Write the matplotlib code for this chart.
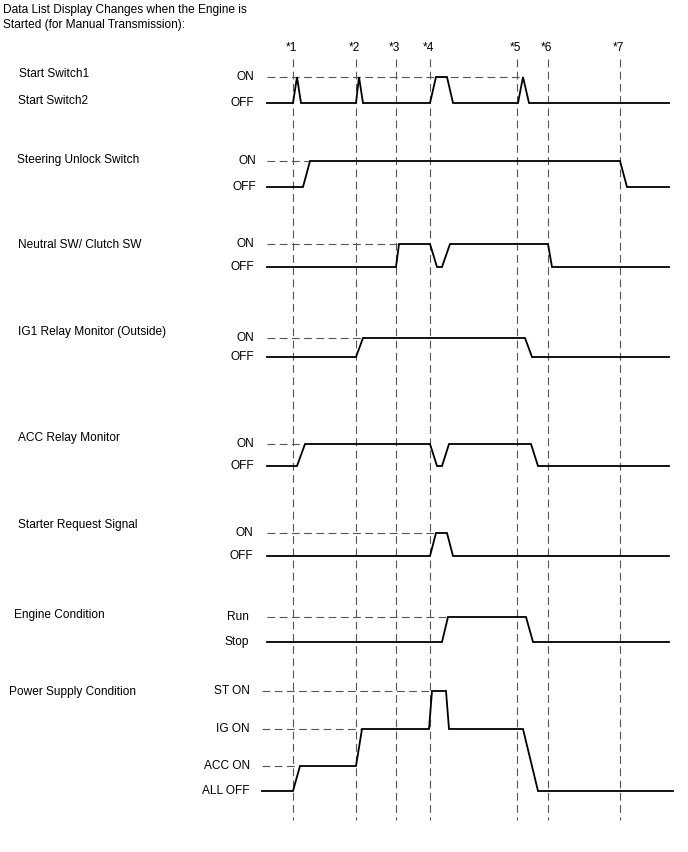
import matplotlib
matplotlib.use('Agg')
import matplotlib.pyplot as plt

plt.rcParams['font.family'] = ['Liberation Sans', 'DejaVu Sans']

# event markers
event_labels = ['*1', '*2', '*3', '*4', '*5', '*6', '*7']
event_x = [293, 356, 396, 430, 517, 548, 620]

# each signal: time points and state index at each point
ss_t = [267, 293, 297, 301, 356, 359, 363, 430, 436, 447, 453, 518, 523, 529, 669]
ss_s = [0, 0, 1, 0, 0, 1, 0, 0, 1, 1, 0, 0, 1, 0, 0]

steer_t = [267, 303, 310, 620, 627, 669]
steer_s = [0, 0, 1, 1, 0, 0]

neutral_t = [267, 396, 399, 430, 437, 442, 450, 548, 552, 669]
neutral_s = [0, 0, 1, 1, 0, 0, 1, 1, 0, 0]

ig1_t = [267, 356, 363, 525, 532, 669]
ig1_s = [0, 0, 1, 1, 0, 0]

acc_t = [267, 297, 305, 430, 437, 442, 449, 531, 538, 669]
acc_s = [0, 0, 1, 1, 0, 0, 1, 1, 0, 0]

starter_t = [267, 430, 436, 447, 453, 669]
starter_s = [0, 0, 1, 1, 0, 0]

engine_t = [267, 442, 448, 526, 533, 669]
engine_s = [0, 0, 1, 1, 0, 0]

power_t = [262, 293, 300, 356, 362, 429, 432, 446, 449, 523, 538, 673]
power_s = [0, 0, 1, 1, 2, 2, 3, 3, 2, 2, 0, 0]

onoff = ['OFF', 'ON']
title_lines = ['Data List Display Changes when the Engine is',
               'Started (for Manual Transmission):']

# name, name pos, state labels, level y, state label right x, times, states, dashed ref ends per upper state
panels = [
    (['Start Switch1', 'Start Switch2'], [(19, 74), (18, 101)], onoff, [103, 77], 254, ss_t, ss_s, [523]),
    (['Steering Unlock Switch'], [(17, 160)], onoff, [187, 161], 256, steer_t, steer_s, [310]),
    (['Neutral SW/ Clutch SW'], [(18, 245)], onoff, [267, 244], 254, neutral_t, neutral_s, [399]),
    (['IG1 Relay Monitor (Outside)'], [(18, 332)], onoff, [357, 338], 254, ig1_t, ig1_s, [363]),
    (['ACC Relay Monitor'], [(18, 438)], onoff, [466, 444], 254, acc_t, acc_s, [305]),
    (['Starter Request Signal'], [(18, 525)], onoff, [556, 533], 253, starter_t, starter_s, [436]),
    (['Engine Condition'], [(14, 615)], ['Stop', 'Run'], [642, 617], 249, engine_t, engine_s, [448]),
    (['Power Supply Condition'], [(9, 692)], ['ALL OFF', 'ACC ON', 'IG ON', 'ST ON'],
     [791, 766, 729, 691], 250, power_t, power_s, [300, 362, 432]),
]

fig = plt.figure(figsize=(6.88, 8.52), dpi=100)
ax = fig.add_axes([0, 0, 1, 1])
ax.set_xlim(0, 688)
ax.set_ylim(852, 0)
ax.axis('off')

fs = 8.6
dash_col = '#555555'

for ln, ty in zip(title_lines, [10, 25]):
    ax.text(3, ty, ln, fontsize=fs, va='center', ha='left')

for lab, x in zip(event_labels, event_x):
    ax.text(x - 2, 48, lab, fontsize=fs, ha='center', va='center')
    ax.plot([x, x], [59, 820], color=dash_col, lw=0.8, ls=(0, (7, 4)))

for names, npos, states, levels, rx, t, s, ref_ends in panels:
    for nm, (nx, ny) in zip(names, npos):
        ax.text(nx, ny, nm, fontsize=fs, ha='left', va='center')
    for st, ly in zip(states, levels):
        ax.text(rx, ly, st, fontsize=fs, ha='right', va='center')
    for ly, xe in zip(levels[1:], ref_ends):
        ax.plot([t[0], xe], [ly, ly], color=dash_col, lw=0.8, ls=(0, (7, 4)))
    ys = [levels[k] for k in s]
    ax.plot(t, ys, color='black', lw=1.3, solid_joinstyle='miter')

fig.savefig('out.png', dpi=100)
